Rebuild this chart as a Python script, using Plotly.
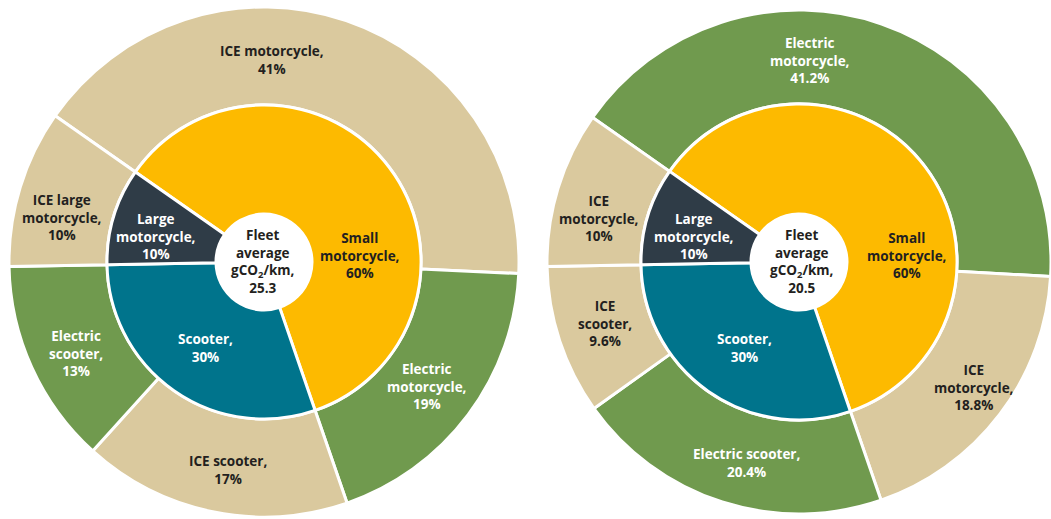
import plotly.graph_objects as go

# inner ring: vehicle segments (same in both panels)
inner_labels = ["Small motorcycle", "Scooter", "Large motorcycle"]
inner_names = ["Small<br>motorcycle", "Scooter", "Large<br>motorcycle"]
inner_values = [60, 30, 10]

# outer ring, left panel
left_labels = ["ICE motorcycle", "Electric motorcycle", "ICE scooter",
               "Electric scooter", "ICE large motorcycle"]
left_names = ["ICE motorcycle", "Electric<br>motorcycle", "ICE scooter",
              "Electric<br>scooter", "ICE large<br>motorcycle"]
left_values = [41, 19, 17, 13, 10]

# outer ring, right panel (last one is the large ICE motorcycle)
right_labels = ["Electric motorcycle", "ICE motorcycle", "Electric scooter",
                "ICE scooter", "ICE large motorcycle"]
right_names = ["Electric<br>motorcycle", "ICE<br>motorcycle", "Electric scooter",
               "ICE<br>scooter", "ICE<br>motorcycle"]
right_values = [41.2, 18.8, 20.4, 9.6, 10]

fleet_avg = [25.3, 20.5]

COLORS = {
    "Small motorcycle": "#FDBA00",
    "Scooter": "#00748C",
    "Large motorcycle": "#2F3C47",
    "ICE": "#DAC99E",
    "Electric": "#709A4E",
}
DARK = "#231F20"
FONT = "Open Sans"

W, H = 1051, 519
R_HOLE = 48

# layout: (centre x, centre y, outer radius, inner radius) in px
panel_geom = [(264, 262, 255, 157), (799, 262, 252, 158)]
# label anchor points in px
label_pos = [
    dict(outer=[(272, 60), (427, 386), (228, 470), (76, 353), (62, 217)],
         inner=[(360, 255), (205, 348), (156, 236)], centre=(263, 261)),
    dict(outer=[(810, 60), (974, 388), (746, 463), (605, 323), (599, 218)],
         inner=[(907, 255), (744, 348), (694, 236)], centre=(802, 261)),
]


def dom(cx, cy, r):
    return dict(x=[(cx - r) / W, min(1, (cx + r) / W)],
                y=[max(0, (H - cy - r) / H), (H - cy + r) / H])


def ring_color(lbl):
    if lbl in COLORS:
        return COLORS[lbl]
    return COLORS["ICE"] if lbl.startswith("ICE") else COLORS["Electric"]


def text_color(lbl):
    c = ring_color(lbl)
    return DARK if c in (COLORS["ICE"], COLORS["Small motorcycle"]) else "white"


def label(x, y, txt, color):
    fig.add_annotation(
        x=x / W, y=(H - y) / H, xref="paper", yref="paper", showarrow=False,
        text=txt, align="center", xanchor="center", yanchor="middle",
        font=dict(family=FONT, size=13.5, weight="bold", color=color),
    )


fig = go.Figure()
panels = [(left_labels, left_names, left_values),
          (right_labels, right_names, right_values)]

for i, (labels, names, values) in enumerate(panels):
    cx, cy, r_out, r_in = panel_geom[i]
    fig.add_trace(go.Pie(
        labels=[f"{l} ({i})" for l in labels], values=values,
        textinfo="none", hoverinfo="label+value",
        sort=False, direction="clockwise", rotation=-55,
        hole=r_in / r_out, domain=dom(cx, cy, r_out),
        marker=dict(colors=[ring_color(l) for l in labels],
                    line=dict(color="white", width=3)),
    ))
    fig.add_trace(go.Pie(
        labels=[f"{l} ({i})" for l in inner_labels], values=inner_values,
        textinfo="none", hoverinfo="label+value",
        sort=False, direction="clockwise", rotation=-55,
        hole=R_HOLE / r_in, domain=dom(cx, cy, r_in),
        marker=dict(colors=[ring_color(l) for l in inner_labels],
                    line=dict(color="white", width=3)),
    ))

    pos = label_pos[i]
    for (x, y), n, v, l in zip(pos["outer"], names, values, labels):
        label(x, y, f"{n},<br>{v:g}%", text_color(l))
    for (x, y), n, v, l in zip(pos["inner"], inner_names, inner_values, inner_labels):
        label(x, y, f"{n},<br>{v:g}%", text_color(l))
    label(*pos["centre"], f"Fleet<br>average<br>gCO<sub>2</sub>/km,<br>{fleet_avg[i]}", DARK)

fig.update_layout(
    width=W, height=H, showlegend=False,
    margin=dict(l=0, r=0, t=0, b=0),
    paper_bgcolor="white", plot_bgcolor="white",
)

fig.write_html("out.html", config={"displayModeBar": False},
               post_script="document.body.style.margin='0';document.body.style.overflow='hidden';")
